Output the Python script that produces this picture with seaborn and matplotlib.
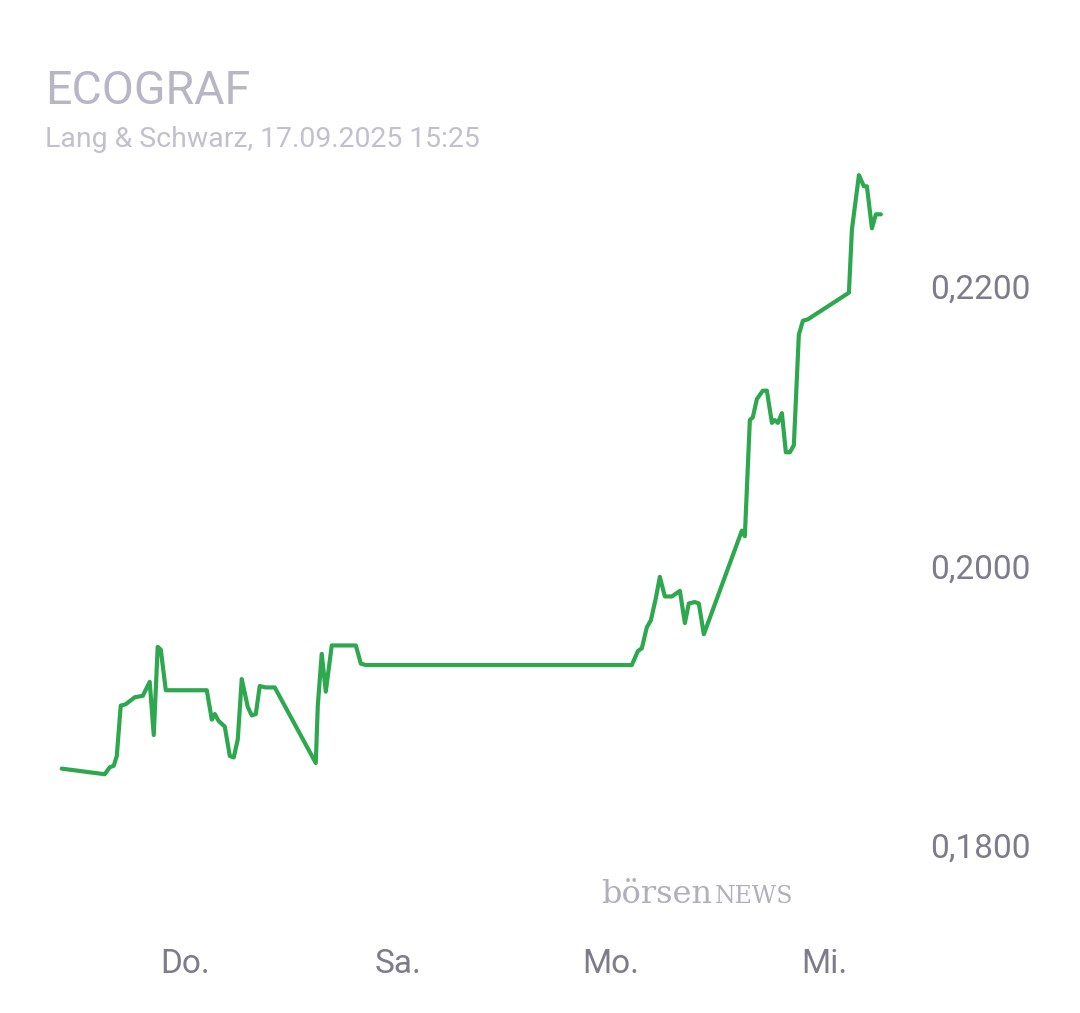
import matplotlib
matplotlib.use("Agg")
import matplotlib.pyplot as plt
import seaborn as sns
import pandas as pd

days = [-1.155,-0.751,-0.704,-0.667,-0.638,-0.601,-0.554,-0.469,-0.394,-0.329,-0.291,-0.254,-0.225,-0.178,
        0.207,0.254,0.282,0.319,0.376,0.423,0.460,0.498,0.535,0.592,0.629,0.667,0.704,0.761,0.845,
        1.230,1.249,1.286,1.324,1.380,1.606,1.653,1.700,4.197,4.254,4.291,4.338,4.376,4.423,4.460,
        4.507,4.573,4.648,4.695,4.732,4.789,4.826,4.873,5.230,5.258,5.305,5.333,5.371,5.427,5.465,
        5.512,5.540,5.568,5.606,5.643,5.681,5.718,5.765,5.803,5.850,6.235,6.263,6.329,6.376,6.404,
        6.451,6.488,6.535]
prices = [0.1855,0.1851,0.1856,0.1857,0.1864,0.1900,0.1901,0.1906,0.1907,0.1917,0.1879,0.1942,0.1940,0.1911,
          0.1911,0.1890,0.1894,0.1889,0.1885,0.1864,0.1863,0.1876,0.1919,0.1899,0.1893,0.1894,0.1914,0.1913,0.1913,
          0.1859,0.1900,0.1937,0.1910,0.1943,0.1943,0.1930,0.1929,0.1929,0.1939,0.1941,0.1956,0.1961,0.1977,0.1992,
          0.1978,0.1978,0.1982,0.1959,0.1973,0.1974,0.1973,0.1951,0.2025,0.2021,0.2104,0.2106,0.2119,0.2125,0.2125,
          0.2102,0.2104,0.2102,0.2109,0.2081,0.2081,0.2086,0.2165,0.2175,0.2176,0.2195,0.2240,0.2279,0.2271,0.2271,
          0.2241,0.2251,0.2251]
tick_pos = [0, 2, 4, 6]
tick_labels = ["Do.", "Sa.", "Mo.", "Mi."]
y_ticks = [0.18, 0.20, 0.22]
y_labels = ["0,1800", "0,2000", "0,2200"]

sns.set_style("white")
plt.rcParams['font.family'] = ['Roboto', 'DejaVu Sans']
df = pd.DataFrame({"day": days, "price": prices})
fig = plt.figure(figsize=(10.8, 10.13), dpi=100)
ax = fig.add_axes([0.046, 0.092, 0.778, 0.76])
sns.lineplot(data=df, x="day", y="price", ax=ax, color="#2ea84f", linewidth=3, sort=False)
ax.set_xlim(-1.268, 6.62)
ax.set_ylim(0.1747, 0.2297)
for s in ax.spines.values():
    s.set_visible(False)
ax.yaxis.tick_right()
ax.set_yticks(y_ticks)
ax.set_yticklabels(y_labels)
ax.set_xticks(tick_pos)
ax.set_xticklabels(tick_labels)
ax.tick_params(axis='y', length=0, pad=29, labelsize=24, labelcolor="#7d7b8c")
ax.tick_params(axis='x', length=0, pad=20, labelsize=24, labelcolor="#7d7b8c")
ax.set_xlabel(""); ax.set_ylabel("")
fig.text(0.042, 0.897, "ECOGRAF", fontsize=33.5, color="#b8b6c4", va="baseline")
fig.text(0.042, 0.855, "Lang & Schwarz, 17.09.2025 15:25", fontsize=20.4, color="#c2c0cc", va="baseline")
fig.text(0.557, 0.109, "börsen", fontsize=23, color="#b0afbb", family="DejaVu Serif", va="baseline")
fig.text(0.662, 0.109, "NEWS", fontsize=17, color="#b0afbb", family="DejaVu Serif", va="baseline")
fig.savefig("out.png", dpi=100)
